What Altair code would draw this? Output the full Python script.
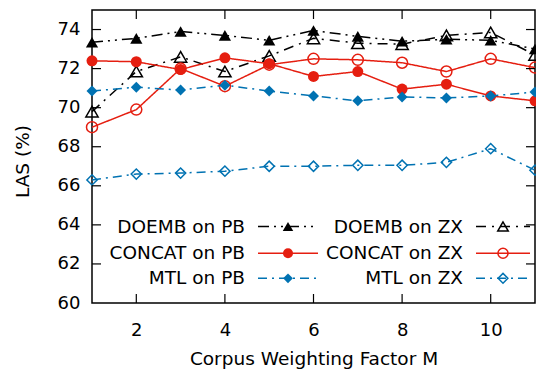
import altair as alt
import pandas as pd

# ---- data ----
M = [1, 2, 3, 4, 5, 6, 7, 8, 9, 10, 11]
doemb_pb = [73.35, 73.55, 73.9, 73.7, 73.45, 73.95, 73.65, 73.4, 73.5, 73.45, 73.0]
doemb_zx = [69.8, 71.85, 72.6, 71.85, 72.65, 73.55, 73.3, 73.25, 73.7, 73.85, 72.7]
concat_pb = [72.4, 72.35, 71.95, 72.55, 72.25, 71.6, 71.85, 70.95, 71.2, 70.6, 70.35]
concat_zx = [69.0, 69.9, 72.0, 71.1, 72.2, 72.5, 72.45, 72.3, 71.85, 72.5, 72.05]
mtl_pb = [70.85, 71.05, 70.9, 71.15, 70.85, 70.6, 70.35, 70.55, 70.5, 70.6, 70.8]
mtl_zx = [66.3, 66.6, 66.65, 66.75, 67.0, 67.0, 67.05, 67.05, 67.2, 67.9, 66.8]

x_ticks = [2, 4, 6, 8, 10]
y_ticks = [60, 62, 64, 66, 68, 70, 72, 74]

BLACK = "#000000"
RED = "#e51e10"
BLUE = "#0072b2"
FONT = "DejaVu Sans"

W, H = 443, 293

# name, values, color, dash, shape, filled, size, legend column, legend row
series = [
    ("DOEMB on PB", doemb_pb, BLACK, [11, 5, 2, 5, 2, 5], "triangle-up", True, 150, 0, 0),
    ("DOEMB on ZX", doemb_zx, BLACK, [10, 6, 2, 6], "triangle-up", False, 150, 1, 0),
    ("CONCAT on PB", concat_pb, RED, [1, 0], "circle", True, 121, 0, 1),
    ("CONCAT on ZX", concat_zx, RED, [1, 0], "circle", False, 121, 1, 1),
    ("MTL on PB", mtl_pb, BLUE, [9, 5, 2, 5], "diamond", True, 120, 0, 2),
    ("MTL on ZX", mtl_zx, BLUE, [9, 5, 2, 5], "diamond", False, 105, 1, 2),
]

xscale = alt.Scale(domain=[1, 11], nice=False, zero=False)
yscale = alt.Scale(domain=[60, 75], nice=False, zero=False)

x_axis = alt.Axis(values=x_ticks, ticks=False, tickSize=0, domain=False, grid=False,
                  labelFont=FONT, labelFontSize=18, labelColor="black", labelPadding=18,
                  labelFlush=False,
                  title="Corpus Weighting Factor M", titleFont=FONT, titleFontSize=18.5,
                  titleFontWeight="normal", titleColor="black", titleY=61,
                  titleBaseline="alphabetic")
y_axis = alt.Axis(values=y_ticks, ticks=False, tickSize=0, domain=False, grid=False,
                  labelFont=FONT, labelFontSize=18, labelColor="black", labelPadding=12,
                  labelFlush=False,
                  title="LAS (%)", titleFont=FONT, titleFontSize=18.5,
                  titleFontWeight="normal", titleColor="black", titleAngle=270,
                  titleX=-70, titleY=151, titleBaseline="middle", titleAlign="center")


def xe(field):
    return alt.X(f"{field}:Q", scale=xscale, axis=x_axis, title="Corpus Weighting Factor M")


def ye(field):
    return alt.Y(f"{field}:Q", scale=yscale, axis=y_axis, title="LAS (%)")


layers = []
for name, vals, color, dash, shape, filled, size, col, row in series:
    df = pd.DataFrame({"M": M, "LAS": vals})
    line = alt.Chart(df).mark_line(color=color, strokeWidth=1.5, strokeDash=dash,
                                   clip=False).encode(x=xe("M"), y=ye("LAS"))
    if filled:
        pts = alt.Chart(df).mark_point(shape=shape, filled=True, size=size, color=color,
                                       opacity=1, clip=False).encode(x=xe("M"), y=ye("LAS"))
    else:
        pts = alt.Chart(df).mark_point(shape=shape, filled=False, size=size, color=color,
                                       strokeWidth=1.5, opacity=1,
                                       clip=False).encode(x=xe("M"), y=ye("LAS"))
    layers += [line, pts]

# ---- inward ticks on all four sides ----
TL = 9
xt = pd.DataFrame({"M": x_ticks})
yt = pd.DataFrame({"LAS": [v for v in y_ticks if v != 60]})
tick_style = dict(color="black", strokeWidth=1.2)
layers.append(alt.Chart(xt).mark_rule(**tick_style).encode(
    x=xe("M"), y=alt.value(H), y2=alt.value(H - TL)))
layers.append(alt.Chart(xt).mark_rule(**tick_style).encode(
    x=xe("M"), y=alt.value(0), y2=alt.value(TL)))
layers.append(alt.Chart(yt).mark_rule(**tick_style).encode(
    y=ye("LAS"), x=alt.value(0), x2=alt.value(TL)))
layers.append(alt.Chart(yt).mark_rule(**tick_style).encode(
    y=ye("LAS"), x=alt.value(W), x2=alt.value(W - TL)))

# ---- gnuplot-style legend: label, then line sample with marker ----
one = pd.DataFrame({"a": [0]})
text_right = [153, 371]
sample_x = [(166, 226), (384, 438)]
row_y = [216.5, 243.3, 268.3]
leg_size = {"triangle-up": 110, "circle": 100, "diamond": 95}
for name, vals, color, dash, shape, filled, size, col, row in series:
    yv = row_y[row]
    layers.append(alt.Chart(one).mark_text(text=name, align="right", baseline="middle",
                                           font=FONT, fontSize=18.5, color="black").encode(
        x=alt.value(text_right[col]), y=alt.value(yv)))
    x0, x1 = sample_x[col]
    layers.append(alt.Chart(one).mark_rule(color=color, strokeWidth=1.5, strokeDash=dash).encode(
        x=alt.value(x0), x2=alt.value(x1), y=alt.value(yv)))
    if filled:
        layers.append(alt.Chart(one).mark_point(shape=shape, filled=True, size=leg_size[shape],
                                                color=color, opacity=1).encode(
            x=alt.value((x0 + x1) / 2), y=alt.value(yv)))
    else:
        layers.append(alt.Chart(one).mark_point(shape=shape, filled=False, size=leg_size[shape],
                                                color=color, strokeWidth=1.5, opacity=1).encode(
            x=alt.value((x0 + x1) / 2), y=alt.value(yv)))

chart = alt.layer(*layers).properties(
    width=W, height=H,
    autosize=alt.AutoSizeParams(type="none"),
    padding={"left": 84, "top": 2, "right": 1, "bottom": 68},
    background="white",
).configure_view(stroke="black", strokeWidth=1.5)

chart.save("out.html", embed_options={"renderer": "svg", "actions": False})
